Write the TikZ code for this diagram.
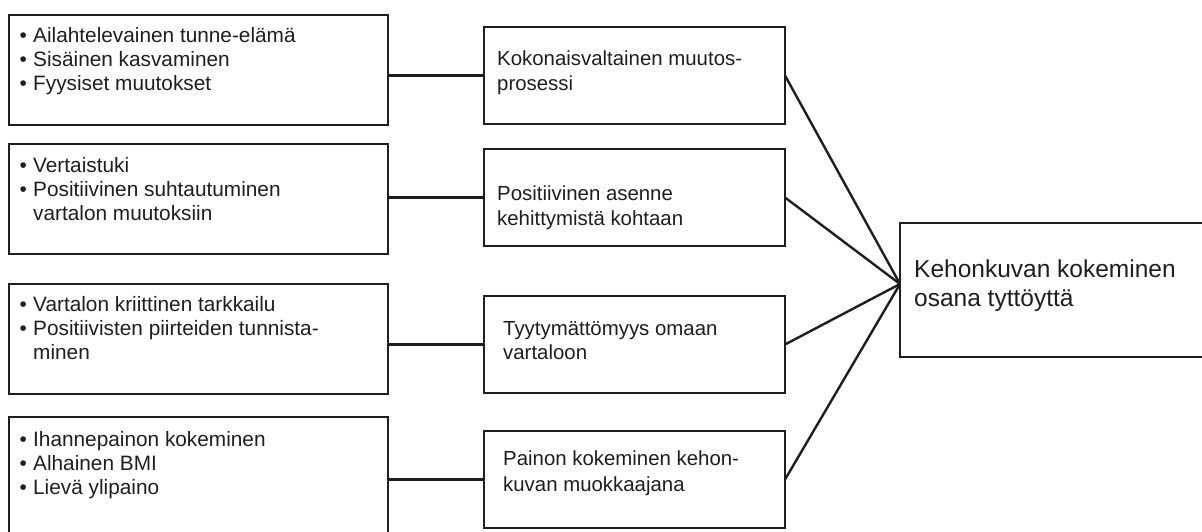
\documentclass[tikz,border=0pt]{standalone}
\usepackage{fontspec}
\setmainfont{Liberation Sans}
\definecolor{ink}{HTML}{1E1E1E}
\newcommand{\bul}{\makebox[13.5pt][l]{•}}
\begin{document}
\begin{tikzpicture}[x=1pt,y=-1pt,
  box/.style={draw=ink,line width=2.4pt,rectangle,inner sep=0pt,outer sep=0pt,anchor=north west},
  leftbox/.style={box,minimum width=379pt,minimum height=110pt},
  midbox/.style={box,minimum width=301pt,minimum height=97pt},
  listtext/.style={anchor=base west,inner sep=0pt,text=ink,font=\fontsize{20.8}{24}\selectfont},
  midtext/.style={anchor=base west,inner sep=0pt,text=ink,align=left,font=\fontsize{20.4}{25}\selectfont},
  link/.style={draw=ink,line width=2.4pt}]
\useasboundingbox (0,0) rectangle (1202,531);
\clip (0,0) rectangle (1202,531);

% left column: lists of themes
\node[leftbox] (l1) at (9,15) {};
\node[leftbox] (l2) at (9,144) {};
\node[leftbox] (l3) at (9,284) {};
\node[leftbox,minimum height=125pt] (l4) at (9,417) {};

% middle column: sub-categories
\node[midbox] (m1) at (484,27) {};
\node[midbox] (m2) at (484,149) {};
\node[midbox] (m3) at (484,296) {};
\node[midbox] (m4) at (484,431) {};

% right: main category
\node[box,minimum width=320pt,minimum height=134pt] (r) at (900,223) {};
\coordinate (hub) at ([yshift=6pt]r.west);

% texts
\node[listtext] (t1) at (19.5,42) {\begin{tabular}[t]{@{}l@{}l@{}}
\bul&Ailahtelevainen tunne-elämä\\
\bul&Sisäinen kasvaminen\\
\bul&Fyysiset muutokset\end{tabular}};
\node[listtext] (t2) at (19.5,172) {\begin{tabular}[t]{@{}l@{}l@{}}
\bul&Vertaistuki\\
\bul&Positiivinen suhtautuminen\\
&vartalon muutoksiin\end{tabular}};
\node[listtext] (t3) at (19.5,311) {\begin{tabular}[t]{@{}l@{}l@{}}
\bul&Vartalon kriittinen tarkkailu\\
\bul&Positiivisten piirteiden tunnista-\\
&minen\end{tabular}};
\node[listtext] (t4) at (19.5,446) {\begin{tabular}[t]{@{}l@{}l@{}}
\bul&Ihannepainon kokeminen\\
\bul&Alhainen BMI\\
\bul&Lievä ylipaino\end{tabular}};

\node[midtext] (u1) at (497,65) {Kokonaisvaltainen muutos-};
\node[midtext] (u1b) at (497,90) {prosessi};
\node[midtext] (u2) at (497,200) {Positiivinen asenne};
\node[midtext] (u2b) at (497,225) {kehittymistä kohtaan};
\node[midtext] (u3) at (503,335) {Tyytymättömyys omaan};
\node[midtext] (u3b) at (503,359) {vartaloon};
\node[midtext] (u4) at (503,465) {Painon kokeminen kehon-};
\node[midtext] (u4b) at (503,491) {kuvan muokkaajana};

\node[anchor=base west,inner sep=0pt,text=ink,font=\fontsize{24.5}{29}\selectfont] (rt) at (914,277) {Kehonkuvan kokeminen};
\node[anchor=base west,inner sep=0pt,text=ink,font=\fontsize{24.5}{29}\selectfont] (rtb) at (914,306) {osana tyttöyttä};

% connectors
\foreach \i in {1,2,3,4} {
  \draw[link] (m\i.west -| l\i.east) -- (m\i.west);
  \draw[link] (m\i.east) -- (hub);
}
\end{tikzpicture}
\end{document}
